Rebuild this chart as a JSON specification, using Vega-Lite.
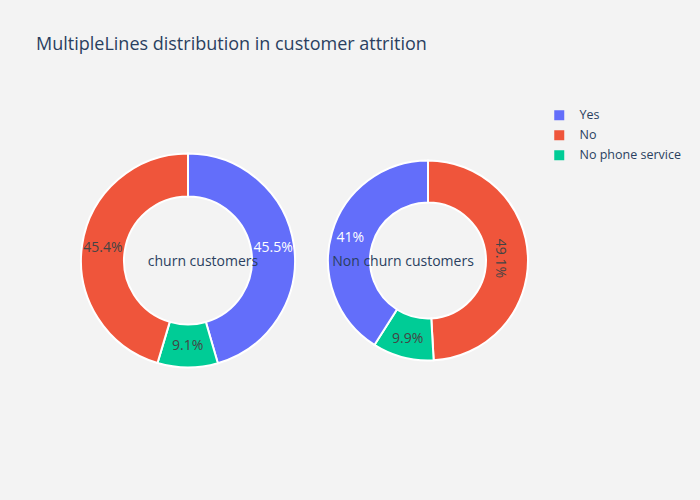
{
  "$schema": "https://vega.github.io/schema/vega-lite/v6.json",
  "background": "#f3f3f3",
  "padding": {"left": 36, "top": 36, "right": 20, "bottom": 88},
  "title": {"text": "MultipleLines distribution in customer attrition", "anchor": "start", "frame": "group", "dx": -32, "offset": 55, "font": "Open Sans", "fontSize": 18, "fontWeight": "normal", "color": "#2a3f5f"},
  "config": {"view": {"stroke": null}, "concat": {"spacing": 0}},
  "data": {"values": [
    {"panel": "churn", "category": "Yes", "pct": 45.5, "order": 1, "label": "45.5%"},
    {"panel": "churn", "category": "No phone service", "pct": 9.1, "order": 2, "label": "9.1%"},
    {"panel": "churn", "category": "No", "pct": 45.4, "order": 3, "label": "45.4%"},
    {"panel": "nonchurn", "category": "No", "pct": 49.1, "order": 1, "label": "49.1%"},
    {"panel": "nonchurn", "category": "No phone service", "pct": 9.9, "order": 2, "label": "9.9%"},
    {"panel": "nonchurn", "category": "Yes", "pct": 41.0, "order": 3, "label": "41%"}
  ]},
  "resolve": {"scale": {"color": "shared"}, "legend": {"color": "shared"}},
  "hconcat": [
    {
      "width": 240, "height": 303,
      "layer": [
        {
          "transform": [{"filter": "datum.panel === 'churn'"}],
          "mark": {"type": "arc", "outerRadius": 107, "innerRadius": 64, "stroke": "white", "strokeWidth": 2},
          "encoding": {
            "theta": {"field": "pct", "type": "quantitative", "stack": true},
            "order": {"field": "order", "type": "quantitative"},
            "color": {"field": "category", "type": "nominal",
              "scale": {"domain": ["Yes", "No", "No phone service"], "range": ["#636efa", "#ef553b", "#00cc96"]},
              "legend": {"title": null, "orient": "right", "offset": 5, "symbolType": "square", "symbolSize": 100, "symbolStrokeWidth": 0, "labelFont": "Open Sans", "labelFontSize": 12.5, "labelColor": "#2a3f5f", "rowPadding": 7, "labelOffset": 14}}
          }
        },
        {
          "transform": [{"filter": "datum.panel === 'churn'"}],
          "mark": {"type": "text", "radius": 86, "font": "Open Sans", "fontSize": 14},
          "encoding": {
            "theta": {"field": "pct", "type": "quantitative", "stack": true},
            "order": {"field": "order", "type": "quantitative"},
            "text": {"field": "label", "type": "nominal"},
            "color": {"condition": {"test": "datum.category === 'Yes'", "value": "white"}, "value": "#444444"}
          }
        },
        {
          "data": {"values": [{"t": "churn customers"}]},
          "mark": {"type": "text", "dx": 15, "dy": 1, "font": "Open Sans", "fontSize": 14, "color": "#2a3f5f"},
          "encoding": {"text": {"field": "t", "type": "nominal"}}
        }
      ]
    },
    {
      "width": 240, "height": 303,
      "layer": [
        {
          "transform": [{"filter": "datum.panel === 'nonchurn'"}],
          "mark": {"type": "arc", "outerRadius": 100, "innerRadius": 58, "stroke": "white", "strokeWidth": 2},
          "encoding": {
            "theta": {"field": "pct", "type": "quantitative", "stack": true},
            "order": {"field": "order", "type": "quantitative"},
            "color": {"field": "category", "type": "nominal",
              "scale": {"domain": ["Yes", "No", "No phone service"], "range": ["#636efa", "#ef553b", "#00cc96"]},
              "legend": {"title": null, "orient": "right", "offset": 5, "symbolType": "square", "symbolSize": 100, "symbolStrokeWidth": 0, "labelFont": "Open Sans", "labelFontSize": 12.5, "labelColor": "#2a3f5f", "rowPadding": 7, "labelOffset": 14}}
          }
        },
        {
          "transform": [{"filter": "datum.panel === 'nonchurn'"}],
          "mark": {"type": "text", "radius": 81, "font": "Open Sans", "fontSize": 14},
          "encoding": {
            "theta": {"field": "pct", "type": "quantitative", "stack": true},
            "order": {"field": "order", "type": "quantitative"},
            "text": {"field": "label", "type": "nominal"},
            "opacity": {"condition": {"test": "datum.category === 'No'", "value": 0}, "value": 1},
            "color": {"condition": {"test": "datum.category === 'Yes'", "value": "white"}, "value": "#444444"}
          }
        },
        {
          "transform": [{"filter": "datum.panel === 'nonchurn' && datum.category === 'No'"}],
          "mark": {"type": "text", "radius": 72, "angle": 90, "font": "Open Sans", "fontSize": 14, "color": "#444444"},
          "encoding": {
            "theta": {"field": "pct", "type": "quantitative", "stack": true},
            "text": {"field": "label", "type": "nominal"}
          }
        },
        {
          "data": {"values": [{"t": "Non churn customers"}]},
          "mark": {"type": "text", "dx": -25, "dy": 1, "font": "Open Sans", "fontSize": 14, "color": "#2a3f5f"},
          "encoding": {"text": {"field": "t", "type": "nominal"}}
        }
      ]
    }
  ]
}
